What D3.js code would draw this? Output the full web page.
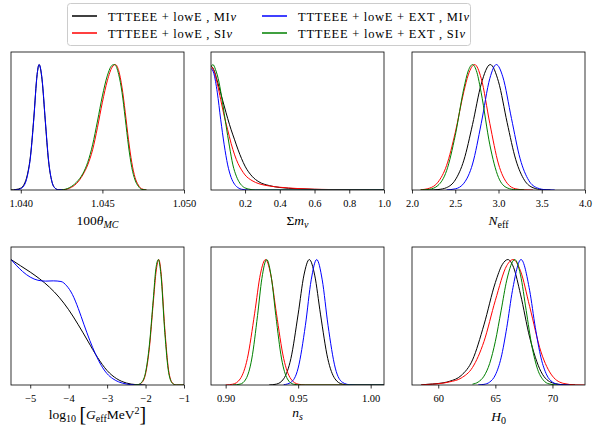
<!DOCTYPE html>
<html>
<head>
<meta charset="utf-8">
<script src="https://cdn.jsdelivr.net/npm/d3@7"></script>
<style>
    body { margin: 0; background: #fff; }
    .tick text { font-size: 10.5px; fill: #000; }
    .tick line { stroke: #000; stroke-width: 0.8; }
    .frame { fill: none; stroke: #000; stroke-width: 0.8; }
    .curve { fill: none; stroke-width: 1; }
</style>
</head>
<body>
<div id="chart"></div>
<script>
// series names and colours
const seriesNames = [
    'TTTEEE + lowE , MI',
    'TTTEEE + lowE , SI',
    'TTTEEE + lowE + EXT , MI',
    'TTTEEE + lowE + EXT , SI',
];
const seriesColors = ['#000000', '#ff0000', '#0000ff', '#008000'];

// 100 theta_MC  (x, normalised posterior)
const thetaMI = [[1.0394,0],[1.0397,0.004],[1.0400,0.015],[1.0402,0.045],[1.0404,0.12],[1.0406,0.28],[1.0408,0.58],[1.0410,0.92],[1.04112,1],[1.0413,0.88],[1.0415,0.55],[1.0417,0.23],[1.0419,0.07],[1.0421,0.015],[1.0423,0.002],[1.0426,0]];
const thetaSI = [[1.0425,0],[1.0430,0.015],[1.0434,0.05],[1.0438,0.12],[1.0441,0.20],[1.0444,0.32],[1.0447,0.50],[1.0450,0.70],[1.0453,0.87],[1.0456,0.98],[1.0458,1],[1.0460,0.95],[1.0462,0.82],[1.0464,0.62],[1.0466,0.40],[1.0468,0.22],[1.0470,0.10],[1.0472,0.04],[1.0474,0.01],[1.0477,0]];
const thetaExtMI = [[1.0396,0],[1.0399,0.005],[1.0402,0.035],[1.0404,0.11],[1.0406,0.27],[1.0408,0.57],[1.0410,0.92],[1.04112,1],[1.0413,0.89],[1.0415,0.56],[1.0417,0.24],[1.0419,0.07],[1.0421,0.014],[1.0423,0.002],[1.0426,0]];
const thetaExtSI = [[1.0425,0],[1.0430,0.02],[1.0434,0.06],[1.0438,0.13],[1.0441,0.22],[1.0444,0.36],[1.0447,0.55],[1.0450,0.75],[1.0453,0.91],[1.0456,0.995],[1.04575,1],[1.0460,0.92],[1.0462,0.78],[1.0464,0.57],[1.0466,0.35],[1.0468,0.18],[1.0470,0.08],[1.0472,0.03],[1.0474,0.005],[1.0477,0]];

// sum of neutrino masses
const mnuMI = [[0.004,0.99],[0.02,0.96],[0.04,0.87],[0.06,0.77],[0.08,0.67],[0.10,0.57],[0.12,0.48],[0.14,0.40],[0.16,0.32],[0.18,0.25],[0.20,0.19],[0.24,0.11],[0.28,0.065],[0.34,0.035],[0.40,0.02],[0.50,0.01],[0.60,0.005],[0.80,0.001],[1.0,0]];
const mnuSI = [[0.004,0.99],[0.02,0.95],[0.04,0.85],[0.06,0.72],[0.08,0.59],[0.10,0.48],[0.12,0.37],[0.14,0.28],[0.16,0.21],[0.18,0.16],[0.20,0.12],[0.24,0.075],[0.28,0.05],[0.34,0.032],[0.40,0.022],[0.50,0.012],[0.60,0.006],[0.80,0.002],[1.0,0]];
const mnuExtMI = [[0.004,0.97],[0.02,0.93],[0.04,0.78],[0.06,0.56],[0.08,0.36],[0.10,0.20],[0.12,0.10],[0.14,0.045],[0.16,0.018],[0.18,0.006],[0.22,0],[1.0,0]];
const mnuExtSI = [[0.004,0.98],[0.015,1],[0.03,0.96],[0.05,0.86],[0.07,0.70],[0.09,0.52],[0.11,0.35],[0.13,0.20],[0.15,0.11],[0.17,0.055],[0.19,0.025],[0.22,0.008],[0.26,0],[1.0,0]];

// N_eff
const neffMI = [[2.2,0],[2.3,0.0035],[2.4,0.019],[2.5,0.08],[2.6,0.238],[2.7,0.523],[2.8,0.844],[2.905,1],[3.0,0.863],[3.1,0.537],[3.2,0.241],[3.3,0.078],[3.4,0.018],[3.5,0.003],[3.6,0]];
const neffSI = [[2.1,0.002],[2.2,0.014],[2.3,0.062],[2.4,0.196],[2.5,0.458],[2.6,0.786],[2.65,0.917],[2.725,1],[2.8,0.89],[2.9,0.529],[3.0,0.207],[3.1,0.054],[3.2,0.009],[3.3,0.001],[3.4,0]];
const neffExtMI = [[2.4,0.001],[2.5,0.009],[2.6,0.054],[2.7,0.207],[2.8,0.529],[2.9,0.89],[2.975,1],[3.05,0.902],[3.15,0.57],[3.25,0.249],[3.35,0.076],[3.45,0.016],[3.55,0.002],[3.65,0]];
const neffExtSI = [[2.1,0],[2.2,0.0055],[2.3,0.036],[2.4,0.154],[2.5,0.435],[2.6,0.812],[2.65,0.949],[2.70,1],[2.75,0.938],[2.8,0.775],[2.9,0.36],[3.0,0.10],[3.1,0.017],[3.2,0.002],[3.3,0]];

// log10 G_eff
const geffMI = [[-5.5,1],[-5.25,0.95],[-5.0,0.90],[-4.75,0.845],[-4.5,0.78],[-4.25,0.70],[-4.0,0.60],[-3.75,0.48],[-3.5,0.35],[-3.25,0.22],[-3.0,0.115],[-2.75,0.05],[-2.5,0.016],[-2.25,0.003],[-2.0,0]];
const geffSI = [[-2.3,0],[-2.2,0.0024],[-2.1,0.018],[-2.0,0.089],[-1.9,0.296],[-1.8,0.653],[-1.72,0.918],[-1.655,1],[-1.6,0.905],[-1.5,0.452],[-1.4,0.117],[-1.3,0.016],[-1.2,0],[-1.0,0]];
const geffExtMI = [[-5.5,1],[-5.35,0.95],[-5.2,0.905],[-5.0,0.86],[-4.8,0.835],[-4.6,0.828],[-4.4,0.83],[-4.2,0.825],[-4.05,0.79],[-3.9,0.72],[-3.75,0.61],[-3.6,0.48],[-3.45,0.355],[-3.3,0.245],[-3.15,0.155],[-3.0,0.09],[-2.85,0.05],[-2.7,0.025],[-2.5,0.008],[-2.3,0.001],[-2.1,0]];
const geffExtSI = [[-2.3,0],[-2.2,0.003],[-2.1,0.022],[-2.0,0.10],[-1.9,0.32],[-1.8,0.68],[-1.73,0.93],[-1.665,1],[-1.6,0.88],[-1.5,0.42],[-1.4,0.10],[-1.3,0.013],[-1.2,0],[-1.0,0]];

// n_s
const nsMI = [[0.930,0],[0.935,0.007],[0.940,0.049],[0.945,0.211],[0.950,0.565],[0.954,0.876],[0.9577,1],[0.9614,0.876],[0.9654,0.565],[0.9704,0.211],[0.9754,0.049],[0.9804,0.007],[0.9854,0],[1.009,0]];
const nsSI = [[0.900,0],[0.905,0.0066],[0.910,0.048],[0.915,0.212],[0.920,0.572],[0.924,0.886],[0.9275,1],[0.931,0.886],[0.935,0.572],[0.940,0.212],[0.945,0.048],[0.950,0.0066],[0.955,0],[1.009,0]];
const nsExtMI = [[0.940,0.002],[0.945,0.021],[0.950,0.135],[0.955,0.476],[0.959,0.838],[0.9628,1],[0.9666,0.838],[0.9706,0.476],[0.9756,0.135],[0.9806,0.021],[0.9856,0.002],[0.990,0],[1.009,0]];
const nsExtSI = [[0.905,0],[0.910,0.007],[0.914,0.048],[0.918,0.207],[0.922,0.554],[0.925,0.85],[0.9283,1],[0.9316,0.85],[0.9346,0.554],[0.9386,0.207],[0.9426,0.048],[0.9466,0.007],[0.952,0],[1.009,0]];

// H_0
const h0MI = [[58.5,0],[59,0.005],[60,0.012],[61,0.03],[62,0.075],[63,0.20],[64,0.479],[65,0.817],[65.6,0.959],[66.1,1],[66.6,0.936],[67.2,0.724],[68,0.382],[69,0.106],[70,0.017],[71,0.002],[72,0]];
const h0SI = [[58.5,0],[59,0.004],[60,0.01],[61,0.025],[62,0.055],[63,0.14],[64,0.346],[65,0.675],[66,0.952],[66.55,1],[67.2,0.91],[68,0.627],[69,0.263],[70,0.071],[71,0.012],[72,0.001],[72.8,0]];
const h0ExtMI = [[63.5,0.001],[64,0.005],[64.5,0.023],[65,0.08],[65.5,0.216],[66,0.458],[66.5,0.755],[67.25,1],[68,0.755],[68.5,0.458],[69,0.216],[69.5,0.08],[70,0.023],[70.5,0.005],[71,0.001],[71.5,0]];
const h0ExtSI = [[63,0.007],[63.5,0.024],[64,0.07],[64.5,0.171],[65,0.348],[65.5,0.591],[66,0.836],[66.7,1],[67.2,0.878],[67.7,0.594],[68.2,0.31],[68.7,0.125],[69.2,0.039],[69.7,0.009],[70.4,0]];

// x ticks of each panel
const thetaTicks = [1.040, 1.045, 1.050];
const mnuTicks = [0.2, 0.4, 0.6, 0.8, 1.0];
const neffTicks = [2.0, 2.5, 3.0, 3.5, 4.0];
const geffTicks = [-5, -4, -3, -2, -1];
const nsTicks = [0.90, 0.95, 1.00];
const h0Ticks = [60, 65, 70];

const width = 593;
const height = 429;
const colLeft = [11, 211, 412];
const rowTop = [52, 247];
const panelW = 173;
const panelH = 138;
const serif = 'Liberation Serif';

const panels = [
    { curves: [thetaMI, thetaSI, thetaExtMI, thetaExtSI], domain: [1.0394, 1.0500], ticks: thetaTicks, fmt: d3.format('.3f'),
      label: [{ t: '100' }, { t: '\u03b8', i: true }, { t: 'MC', i: true, sub: true }], labelY: 225 },
    { curves: [mnuMI, mnuSI, mnuExtMI, mnuExtSI], domain: [0.004, 1.0], ticks: mnuTicks, fmt: d3.format('.1f'),
      label: [{ t: '\u03a3' }, { t: 'm', i: true }, { t: '\u03bd', i: true, sub: true }], labelY: 225 },
    { curves: [neffMI, neffSI, neffExtMI, neffExtSI], domain: [2.0, 4.0], ticks: neffTicks, fmt: d3.format('.1f'),
      label: [{ t: 'N', i: true }, { t: 'eff', sub: true }], labelY: 225 },
    { curves: [geffMI, geffSI, geffExtMI, geffExtSI], domain: [-5.5, -1.0], ticks: geffTicks, fmt: (d) => d3.format('d')(d).replace('-', '\u2212'),
      label: [{ t: 'log' }, { t: '10', sub: true }, { t: ' ' }, { t: '[', big: true }, { t: 'G', i: true }, { t: 'eff', sub: true }, { t: 'MeV' }, { t: '2', sup: true }, { t: ']', big: true }], labelY: 419 },
    { curves: [nsMI, nsSI, nsExtMI, nsExtSI], domain: [0.8899, 1.0092], ticks: nsTicks, fmt: d3.format('.2f'),
      label: [{ t: 'n', i: true }, { t: 's', i: true, sub: true }], labelY: 417 },
    { curves: [h0MI, h0SI, h0ExtMI, h0ExtSI], domain: [57.7, 72.85], ticks: h0Ticks, fmt: d3.format('d'),
      label: [{ t: 'H', i: true }, { t: '0', sub: true }], labelY: 421 },
];

// legend widths
const legendWidths = [128, 124, 171, 167];

const svg = d3.select('#chart')
    .append('svg')
    .attr('width', width)
    .attr('height', height)
    .attr('font-family', serif)
    .style('display', 'block');

const defs = svg.append('defs');

panels.forEach((panel, index) => {
    const left = colLeft[index % 3];
    const top = rowTop[Math.floor(index / 3)];

    const x = d3.scaleLinear().domain(panel.domain).range([0, panelW]);
    const y = d3.scaleLinear().domain([0, 1.1]).range([panelH, 0]);

    defs.append('clipPath')
        .attr('id', `clip-${index}`)
        .append('rect')
        .attr('width', panelW)
        .attr('height', panelH);

    const g = svg.append('g').attr('transform', `translate(${left}, ${top})`);

    const line = d3.line()
        .x((d) => x(d[0]))
        .y((d) => y(d[1]))
        .curve(d3.curveMonotoneX);

    const plot = g.append('g').attr('clip-path', `url(#clip-${index})`);

    panel.curves.forEach((curve, s) => {
        plot.append('path')
            .attr('class', 'curve')
            .attr('d', line(curve))
            .attr('stroke', seriesColors[s]);
    });

    const axis = g.append('g')
        .attr('transform', `translate(0, ${panelH})`)
        .call(d3.axisBottom(x).tickValues(panel.ticks).tickFormat(panel.fmt).tickSize(3.5).tickPadding(6.5));
    axis.attr('font-family', serif).attr('font-size', null);
    axis.selectAll('.tick text').attr('font-family', serif);
    axis.select('.domain').remove();

    g.append('rect')
        .attr('class', 'frame')
        .attr('width', panelW)
        .attr('height', panelH);

    drawLabel(svg, left + panelW / 2, panel.labelY, panel.label);
});

drawLegend(svg);

function drawLabel(parent, cx, baseline, parts) {
    const text = parent.append('text')
        .attr('x', cx)
        .attr('y', baseline)
        .attr('text-anchor', 'middle')
        .attr('font-family', serif)
        .attr('font-size', 13.5);

    let shift = 0;
    parts.forEach((part) => {
        let target = 0;
        let size = 13.5;
        if (part.sub) { target = 3; size = 10; }
        if (part.sup) { target = -5; size = 10; }
        if (part.big) { target = 2; size = 20; }

        text.append('tspan')
            .attr('dy', target - shift)
            .attr('font-size', size)
            .attr('font-style', part.i ? 'italic' : 'normal')
            .text(part.t);
        shift = target;
    });
}

function drawLegend(parent) {
    const legend = parent.append('g');

    legend.append('rect')
        .attr('x', 67.5)
        .attr('y', 3.5)
        .attr('width', 403)
        .attr('height', 42)
        .attr('rx', 3)
        .attr('fill', '#fff')
        .attr('fill-opacity', 0.8)
        .attr('stroke', '#cccccc')
        .attr('stroke-width', 1);

    const colX = [72, 262];
    const rowY = [16, 33];
    const slot = [[0, 0], [1, 0], [0, 1], [1, 1]];

    seriesNames.forEach((name, i) => {
        const hx = colX[slot[i][1]];
        const hy = rowY[slot[i][0]];

        legend.append('line')
            .attr('x1', hx)
            .attr('x2', hx + 25)
            .attr('y1', hy)
            .attr('y2', hy)
            .attr('stroke', seriesColors[i])
            .attr('stroke-width', 1.5);

        const text = legend.append('text')
            .attr('x', hx + 36)
            .attr('y', hy + 4.5)
            .attr('font-family', serif)
            .attr('font-size', 12.5)
            .attr('textLength', legendWidths[i])
            .attr('lengthAdjust', 'spacing');
        text.append('tspan').text(name);
        text.append('tspan').attr('font-style', 'italic').text('\u03bd');
    });
}
</script>
</body>
</html>
